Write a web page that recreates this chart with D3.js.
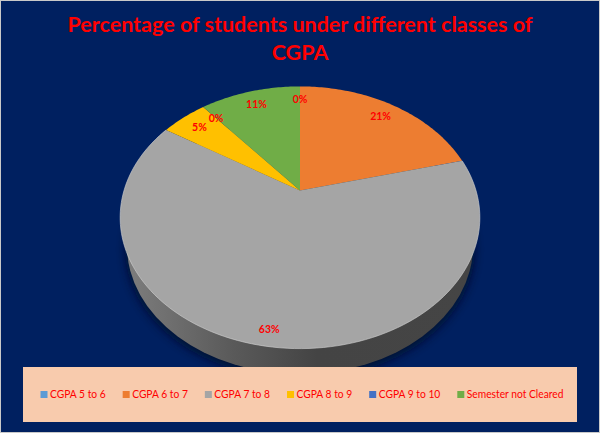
<!DOCTYPE html>
<html>
<head>
<meta charset="utf-8">
<style>
    html, body { margin: 0; padding: 0; background: #fff; }
    svg { display: block; }
    text { font-family: Lato, "Open Sans", sans-serif; fill: #ff0000; }
</style>
<script src="https://cdn.jsdelivr.net/npm/d3@7"></script>
</head>
<body>
<div id="chart"></div>
<script>
    const titleLines = ['Percentage of students under different classes of', 'CGPA'];
    const categories = ['CGPA 5 to 6', 'CGPA 6 to 7', 'CGPA 7 to 8', 'CGPA 8 to 9', 'CGPA 9 to 10', 'Semester not Cleared'];
    const values = [0, 21, 63, 5, 0, 11];
    const colors = ['#5b9bd5', '#ed7d31', '#a5a5a5', '#ffc000', '#4472c4', '#70ad47'];

    const WIDTH = 600;
    const HEIGHT = 433;
    const BACKGROUND = '#002060';
    const LEGEND_FILL = '#f8cbad';

    const svg = d3.select('#chart').append('svg')
        .attr('width', WIDTH)
        .attr('height', HEIGHT);

    const defs = svg.append('defs');

    const wallGradient = defs.append('linearGradient')
        .attr('id', 'wall')
        .attr('gradientUnits', 'userSpaceOnUse')
        .attr('x1', 130).attr('x2', 470).attr('y1', 0).attr('y2', 0);
    wallGradient.append('stop').attr('offset', '0%').attr('stop-color', '#7c7c7c');
    wallGradient.append('stop').attr('offset', '30%').attr('stop-color', '#5a5a5a');
    wallGradient.append('stop').attr('offset', '55%').attr('stop-color', '#444444');
    wallGradient.append('stop').attr('offset', '100%').attr('stop-color', '#454545');

    defs.append('filter')
        .attr('id', 'soft')
        .attr('x', '-20%').attr('y', '-20%').attr('width', '140%').attr('height', '140%')
        .append('feGaussianBlur')
        .attr('stdDeviation', 4);

    // Background and the thin frame of the screenshot
    svg.append('rect')
        .attr('x', 0.5).attr('y', 0.5)
        .attr('width', WIDTH - 1).attr('height', HEIGHT - 1)
        .attr('fill', BACKGROUND)
        .attr('stroke', '#c9c9c9');

    // Tilted pie: the unit circle goes through a projection, so the apex sits above the ellipse centre
    const apex = { x: 300, y: 190.5 };
    const persp = -0.206;
    const scaleX = 176;
    const scaleY = 86.3;

    function project(angle, r) {
        const u = Math.sin(angle) * r;
        const v = -Math.cos(angle) * r;
        const w = 1 + persp * v;
        return [apex.x + scaleX * u / w, (apex.y + scaleY * v) / w];
    }

    const line = d3.line();

    function slicePath(d) {
        const n = Math.max(2, Math.ceil((d.endAngle - d.startAngle) * 60));
        const points = [project(0, 0)];
        d3.range(n + 1).forEach(i => {
            points.push(project(d.startAngle + (d.endAngle - d.startAngle) * i / n, 1));
        });
        return line(points) + 'Z';
    }

    const pie = d3.pie().sort(null).value(d => d);
    const slices = pie(values);

    // Side wall, with a soft shadow under it
    const wallCenter = { x: 300, y: 246 };
    const wallRx = 173;
    const wallRy = 128;

    svg.append('ellipse')
        .attr('cx', wallCenter.x).attr('cy', wallCenter.y + 3)
        .attr('rx', wallRx + 2).attr('ry', wallRy + 2)
        .attr('fill', '#000a28')
        .attr('opacity', 0.75)
        .attr('filter', 'url(#soft)');

    svg.append('ellipse')
        .attr('cx', wallCenter.x).attr('cy', wallCenter.y)
        .attr('rx', wallRx).attr('ry', wallRy)
        .attr('fill', 'url(#wall)');

    svg.append('g')
        .selectAll('path')
        .data(slices)
        .enter()
        .append('path')
        .attr('d', slicePath)
        .attr('fill', (d, i) => colors[i]);

    // Light rim along the big slice
    const rim = slices[2];
    svg.append('path')
        .attr('d', line(d3.range(121).map(i => project(rim.startAngle + (rim.endAngle - rim.startAngle) * i / 120, 1))))
        .attr('fill', 'none')
        .attr('stroke', '#d0d0d0')
        .attr('stroke-opacity', 0.6);

    // Data labels
    svg.append('g')
        .selectAll('text')
        .data(slices)
        .enter()
        .append('text')
        .attr('transform', d => {
            const mid = (d.startAngle + d.endAngle) / 2;
            const r = Math.cos(mid) < -0.5 ? 0.91 : 0.85;
            return `translate(${project(mid, r)})`;
        })
        .attr('text-anchor', 'middle')
        .attr('dy', '0.35em')
        .style('font-size', '10.5px')
        .style('font-weight', 'bold')
        .text(d => d.value + '%');

    // Title
    svg.append('g')
        .selectAll('text')
        .data(titleLines)
        .enter()
        .append('text')
        .attr('x', 300)
        .attr('y', (d, i) => 31.5 + i * 28)
        .attr('text-anchor', 'middle')
        .style('font-size', '21.5px')
        .style('font-weight', 'bold')
        .text(d => d);

    // Legend box, entries laid out from their measured widths
    svg.append('rect')
        .attr('x', 23).attr('y', 367)
        .attr('width', 554).attr('height', 55)
        .attr('fill', LEGEND_FILL);

    const legendItem = svg.append('g')
        .selectAll('g')
        .data(categories)
        .enter()
        .append('g');

    legendItem.append('rect')
        .attr('y', 391)
        .attr('width', 7)
        .attr('height', 7)
        .attr('fill', (d, i) => colors[i]);

    legendItem.append('text')
        .attr('x', 9.5)
        .attr('y', 398)
        .style('font-size', '11.4px')
        .text(d => d);

    // The reference font is narrower than Lato, so squeeze the glyphs a little
    let legendX = 40.5;
    legendItem.each(function () {
        const item = d3.select(this);
        const label = item.select('text');
        const labelWidth = label.node().getComputedTextLength() * 0.9;
        label.attr('textLength', labelWidth).attr('lengthAdjust', 'spacingAndGlyphs');
        item.attr('transform', `translate(${legendX},0)`);
        legendX += 9.5 + labelWidth + 17;
    });
</script>
</body>
</html>
